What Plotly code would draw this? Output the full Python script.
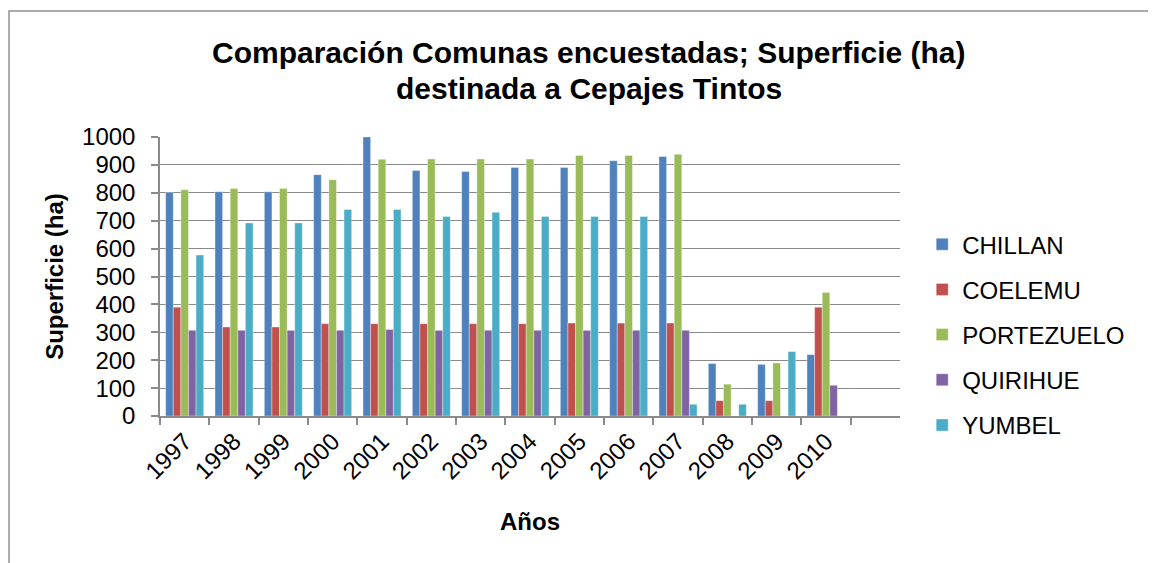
import plotly.graph_objects as go

# Superficie (ha) destinada a cepajes tintos, por comuna y año
anios = ["1997", "1998", "1999", "2000", "2001", "2002", "2003",
         "2004", "2005", "2006", "2007", "2008", "2009", "2010"]

chillan = [802, 804, 804, 865, 1000, 880, 876, 891, 891, 915, 930, 188, 185, 220]
coelemu = [390, 319, 319, 331, 331, 331, 331, 331, 333, 333, 333, 55, 55, 390]
portezuelo = [811, 815, 815, 847, 920, 921, 921, 921, 934, 934, 938, 114, 190, 443]
quirihue = [307, 307, 307, 307, 310, 307, 307, 307, 307, 307, 307, 0, 0, 110]
yumbel = [577, 692, 692, 740, 740, 715, 730, 715, 715, 715, 42, 42, 231, 0]

series = [
    ("CHILLAN", chillan, "#4F81BD"),
    ("COELEMU", coelemu, "#C0504D"),
    ("PORTEZUELO", portezuelo, "#9BBB59"),
    ("QUIRIHUE", quirihue, "#8064A2"),
    ("YUMBEL", yumbel, "#4BACC6"),
]

titulo = ["Comparación Comunas encuestadas; Superficie (ha)",
          "destinada a Cepajes Tintos"]

FONT = "Liberation Sans, Arial, sans-serif"
GRID = "#8a8a8a"

fig = go.Figure()
for name, vals, color in series:
    fig.add_trace(go.Bar(
        x=anios, y=vals, name=name, legendgroup=name,
        marker=dict(color=color, line=dict(color="rgba(255,255,255,0.45)", width=0.8)),
    ))

# plot area: 740 x 279 px (page has an 8px body margin)
fig.update_layout(
    width=1156, height=563,
    margin=dict(l=152, r=264, t=129, b=155),
    paper_bgcolor="white", plot_bgcolor="white",
    font=dict(family=FONT, size=24, color="black"),
    barmode="group", bargap=0.23, bargroupgap=0,
    legend=dict(
        x=1.03, xanchor="left", y=0.695, yanchor="top",
        font=dict(size=24), traceorder="grouped", tracegroupgap=11,
        itemwidth=30, bgcolor="rgba(0,0,0,0)",
    ),
    shapes=[dict(
        type="rect", xref="paper", yref="paper",
        x0=-0.204, x1=1.4, y0=-0.7, y1=1.4516,
        line=dict(color="#8f8f8f", width=1.5), layer="below",
    )],
)

# two title lines as separate annotations so the line spacing stays tight
for y, line in zip([1.3011, 1.1756], titulo):
    fig.add_annotation(
        text=f"<b>{line}</b>", xref="paper", yref="paper",
        x=0.58, y=y, xanchor="center", yanchor="middle",
        showarrow=False, font=dict(size=30, color="black"), borderpad=0,
    )

fig.update_xaxes(
    type="category", categoryorder="array", categoryarray=anios,
    range=[-0.5, 14.5], tickson="boundaries",
    tickangle=-45, ticks="outside", ticklen=7, tickcolor=GRID, tickwidth=1.5,
    showline=True, linecolor=GRID, linewidth=1.5, showgrid=False,
    title=dict(text="<b>Años</b>", font=dict(size=24), standoff=30),
)
fig.update_yaxes(
    range=[0, 1000], dtick=100, tick0=0,
    ticks="outside", ticklen=7, tickcolor=GRID, tickwidth=1.5,
    showline=True, linecolor=GRID, linewidth=1.5,
    showgrid=True, gridcolor=GRID, gridwidth=1.3,
    ticklabelstandoff=11,
    title=dict(text="<b>Superficie (ha)</b>", font=dict(size=24), standoff=12),
)

fig.write_html("out.html")
